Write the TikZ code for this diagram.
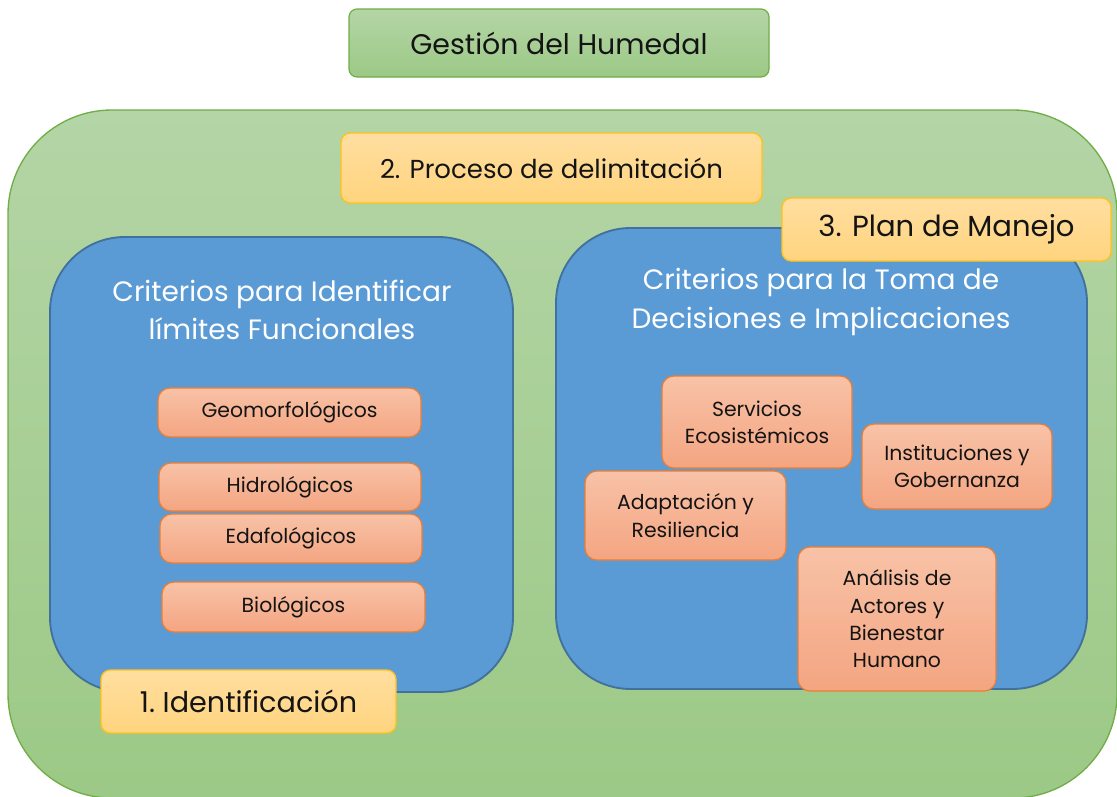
\documentclass[tikz,border=0pt]{standalone}
\usepackage{fontspec}
\setmainfont{Poppins}
\usetikzlibrary{positioning}

\definecolor{verdeborde}{HTML}{70AD47}
\definecolor{verdearriba}{HTML}{B4D5A6}
\definecolor{verdeabajo}{HTML}{9CC986}
\definecolor{amarilloarriba}{HTML}{FFDEA0}
\definecolor{amarilloabajo}{HTML}{FFD47E}
\definecolor{amarilloborde}{HTML}{FFC21A}
\definecolor{azulfondo}{HTML}{5B9BD5}
\definecolor{azulborde}{HTML}{41719C}
\definecolor{naranjaarriba}{HTML}{F8C2A7}
\definecolor{naranjaabajo}{HTML}{F4A581}
\definecolor{naranjaborde}{HTML}{ED7D31}
\definecolor{texto}{HTML}{141414}

\tikzset{
  titulo/.style={draw=verdeborde, line width=0.9pt, rounded corners=6pt,
    top color=verdearriba, bottom color=verdeabajo, text=texto,
    font=\fontsize{21.3}{25}\selectfont},
  etapa/.style={draw=amarilloborde, line width=1pt, rounded corners=7pt,
    top color=amarilloarriba, bottom color=amarilloabajo, text=texto,
    font=\fontsize{19.5}{23}\selectfont},
  bloque/.style={draw=azulborde, line width=1.4pt, rounded corners=56pt,
    fill=azulfondo},
  cabecera/.style={text=white, align=center,
    font=\fontsize{21}{28.5}\selectfont},
  criterio/.style={draw=naranjaborde, line width=0.9pt, rounded corners=9pt,
    top color=naranjaarriba, bottom color=naranjaabajo, text=texto,
    align=center, font=\fontsize{15.3}{20.5}\selectfont}
}

\begin{document}
\begin{tikzpicture}[x=0.75pt, y=-0.75pt]
  \useasboundingbox (0,0) rectangle (1117,796);
  \clip (0,0) rectangle (1117,796);

  % Fondo verde
  \draw[draw=verdeborde, line width=1pt, rounded corners=78pt,
    top color=verdearriba, bottom color=verdeabajo]
    (8,110) rectangle (1117,798);

  % Titulo
  \node[titulo, minimum width=315pt, minimum height=51pt] (gestion) at (559,43) {Gestión del Humedal};

  \node[etapa, minimum width=315.75pt, minimum height=52.5pt] (proceso) at (551.5,168) {2. Proceso de delimitación};

  % Bloques azules
  \node[bloque, minimum width=347.25pt, minimum height=341.25pt] (izq) at (281.5,464.5) {};
  \node[bloque, minimum width=398.25pt, minimum height=345.75pt] (der) at (821.5,458.5) {};

  \node[cabecera] (cabizq) at (282,310) {Criterios para Identificar\\límites Funcionales};
  \node[cabecera, font=\fontsize{21}{29.2}\selectfont] (cabder) at (821,302) {Criterios para la Toma de\\Decisiones e Implicaciones};

  % Criterios funcionales
  \node[criterio, minimum width=197.25pt, minimum height=36.75pt] (geo) at (289.5,412.5) {Geomorfológicos};
  \node[criterio, minimum width=196.5pt, minimum height=36pt] (hidro) at (290,487) {Hidrológicos};
  \node[criterio, minimum width=196.5pt, minimum height=36.75pt] (edafo) at (291,538.5) {Edafológicos};
  \node[criterio, minimum width=197.25pt, minimum height=37.5pt] (bio) at (293.5,607) {Biológicos};

  % Criterios de decision
  \node[criterio, minimum width=142.5pt, minimum height=69pt] (serv) at (757,422) {Servicios\\Ecosistémicos};
  \node[criterio, minimum width=142.5pt, minimum height=63.75pt] (inst) at (957,466.5) {Instituciones y\\Gobernanza};
  \node[criterio, minimum width=150.75pt, minimum height=66.75pt] (adap) at (685.5,515.5) {Adaptación y\\Resiliencia};
  \node[criterio, minimum width=148.5pt, minimum height=108pt] (actores) at (897,619) {Análisis de\\Actores y\\Bienestar\\Humano};

  % Etapas encima de los bloques
  \node[etapa, minimum width=246.75pt, minimum height=47.25pt, font=\fontsize{21.8}{25}\selectfont] (plan) at (946.5,229.5) {3. Plan de Manejo};
  \node[etapa, minimum width=221.25pt, minimum height=47.25pt, font=\fontsize{21.5}{25}\selectfont] (ident) at (248.5,701.5) {1.\ Identificación};
\end{tikzpicture}
\end{document}
